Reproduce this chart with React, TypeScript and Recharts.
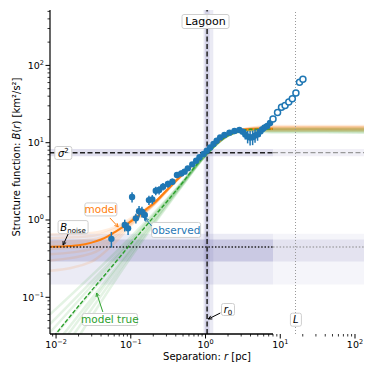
import React from "react";
import {
  ComposedChart,
  Line,
  Scatter,
  ErrorBar,
  XAxis,
  YAxis,
  ReferenceArea,
  ReferenceLine,
  ReferenceDot,
} from "recharts";

const X_MIN = 0.0083;
const X_MAX = 132;
const Y_MIN = 0.0335;
const Y_MAX = 521;
const FIT_MAX = 8; // end of fitted separation range

const xMajor = [0.01, 0.1, 1, 10, 100];
const xMinor = [
  0.009, 0.02, 0.03, 0.04, 0.05, 0.06, 0.07, 0.08, 0.09, 0.2, 0.3, 0.4, 0.5, 0.6, 0.7, 0.8,
  0.9, 2, 3, 4, 5, 6, 7, 8, 9, 20, 30, 40, 50, 60, 70, 80, 90,
];
const yMajor = [0.1, 1, 10, 100];
const yMinor = [
  0.04, 0.05, 0.06, 0.07, 0.08, 0.09, 0.2, 0.3, 0.4, 0.5, 0.6, 0.7, 0.8, 0.9, 2, 3, 4, 5, 6,
  7, 8, 9, 20, 30, 40, 50, 60, 70, 80, 90, 200, 300, 400, 500,
];
const expLabel: Record<string, string> = { "0.01": "−2", "0.1": "−1", "1": "0", "10": "1", "100": "2" };

// fitted / reference values
const sigma2 = 7.43;
const sigma2Band = [6.7, 8.3];
const r0 = 1.05;
const r0Band = [0.94, 1.27];
const r0Inner = [0.98, 1.13];
const bNoise = 0.447;
const noiseInner = [0.29, 0.56];
const noiseOuter = [0.146, 0.665];
const bigL = 16;

// observed structure function (filled, inside fit range)
const obsR = [
  0.055, 0.083, 0.092, 0.104, 0.117, 0.129, 0.141, 0.154, 0.175, 0.194, 0.216, 0.239, 0.27,
  0.314, 0.36, 0.415, 0.474, 0.525, 0.58, 0.665, 0.75, 0.83, 0.94, 1.04, 1.155, 1.28, 1.41,
  1.57, 1.79, 2.09, 2.44, 2.84, 3.14, 3.4, 3.66, 3.95, 4.27, 4.6, 4.97, 5.4, 5.8, 6.2, 6.7, 7.3,
];
const obsB = [
  0.57, 0.86, 0.78, 1.98, 1.05, 1.3, 1.28, 1.16, 1.81, 1.85, 2.39, 2.44, 2.7, 2.92, 3.13, 3.83,
  4.01, 4.22, 4.66, 5.25, 5.85, 6.47, 7.14, 7.87, 8.7, 9.6, 10.6, 11.7, 12.6, 13.5, 14.2, 14.6,
  13.9, 12.8, 12.0, 11.7, 11.8, 12.4, 12.8, 14.0, 15.0, 15.8, 16.5, 18.0,
];
const obsErr = [
  0.13, 0.15, 0.14, 0.3, 0.15, 0.22, 0.2, 0.18, 0.25, 0.25, 0.3, 0.3, 0.3, 0.3, 0.3, 0.35, 0.35,
  0.3, 0.3, 0.3, 0.3, 0.3, 0.3, 0.3, 0.3, 0.3, 0.35, 0.4, 0.4, 0.4, 0.5, 0.6, 1.2, 1.8, 2.2,
  2.5, 2.5, 2.4, 2.2, 2.0, 1.8, 1.6, 1.5, 1.3,
];
// observed beyond fit range (open)
const outR = [8.0, 9.2, 10.4, 11.6, 13.0, 14.5, 16.2, 18.1, 20.1];
const outB = [20.3, 24.5, 28.7, 30.3, 33.5, 37, 44, 60.5, 66.3];

// best model (with noise)
const modelR = [
  0.0083, 0.015, 0.02, 0.03, 0.04, 0.05, 0.06, 0.08, 0.1, 0.13, 0.16, 0.2, 0.25, 0.3, 0.4, 0.5,
  0.6, 0.8, 1, 1.3, 1.6, 2, 2.5, 3, 4, 5, 8,
];
const modelB = [
  0.45, 0.46, 0.47, 0.51, 0.56, 0.62, 0.69, 0.82, 0.96, 1.16, 1.38, 1.62, 2.0, 2.4, 3.2, 3.95,
  4.7, 6.1, 7.4, 9.2, 10.9, 12.6, 13.9, 14.6, 15.0, 15.1, 15.1,
];
// true model (no noise)
const trueR = [0.0083, 0.02, 0.05, 0.1, 0.2, 0.3, 0.5, 0.8, 1, 1.5, 2, 3, 4, 5, 8];
const trueB = [0.027, 0.077, 0.22, 0.49, 1.08, 1.7, 3.1, 5.5, 6.9, 10.2, 12.3, 14.3, 14.9, 15.0, 15.0];

// posterior samples
const sampleR = [0.0083, 0.03, 0.06, 0.1, 0.2, 0.4, 1, 2, 4, 8, 132];
const modelSamples = [
  [0.65, 0.68, 0.8, 1.05, 1.65, 3.2, 7.4, 12.5, 15.6, 16.4, 16.5],
  [0.58, 0.62, 0.76, 1.0, 1.62, 3.2, 7.4, 12.6, 15.2, 15.8, 15.8],
  [0.36, 0.42, 0.6, 0.9, 1.58, 3.2, 7.4, 12.6, 15.0, 15.2, 15.2],
  [0.3, 0.37, 0.56, 0.88, 1.56, 3.15, 7.4, 12.6, 14.6, 14.6, 14.6],
  [0.52, 0.56, 0.71, 0.97, 1.6, 3.2, 7.4, 12.6, 15.4, 16.0, 16.0],
  [0.22, 0.29, 0.5, 0.84, 1.55, 3.15, 7.4, 12.6, 14.4, 14.3, 14.2],
  [0.42, 0.47, 0.64, 0.93, 1.6, 3.2, 7.4, 12.6, 15.0, 15.5, 15.5],
  [0.48, 0.52, 0.68, 0.95, 1.6, 3.2, 7.4, 12.6, 15.1, 15.0, 15.0],
];
const trueSampleR = [0.0083, 0.1, 0.5, 1, 2, 4, 8, 132];
const trueSamples = [
  [0.06, 0.6, 3.2, 7.0, 12.2, 14.9, 15.4, 15.5],
  [0.045, 0.55, 3.15, 6.9, 12.3, 14.9, 14.9, 14.8],
  [0.02, 0.42, 3.0, 6.9, 12.4, 14.6, 14.3, 14.2],
  [0.012, 0.36, 2.9, 6.8, 12.5, 14.5, 13.9, 13.8],
  [0.035, 0.52, 3.1, 7.0, 12.3, 14.8, 15.0, 15.0],
  [0.016, 0.4, 3.0, 6.9, 12.4, 14.7, 14.5, 14.4],
  [0.008, 0.33, 2.85, 6.8, 12.5, 14.4, 13.6, 13.5],
  [0.027, 0.48, 3.05, 6.9, 12.4, 14.8, 14.8, 14.7],
];

const pairs = (rs: number[], bs: number[]) => rs.map((r, i) => ({ r, b: bs[i] }));
const obsData = obsR.map((r, i) => ({ r, b: obsB[i], err: obsErr[i] }));
const outData = pairs(outR, outB);
const modelData = pairs(modelR, modelB);
const trueData = pairs(trueR, trueB);

const BLUE = "#1f77b4";
const ORANGE = "#ff7f0e";
const GREEN = "#2ca02c";
const PURPLE = "#7570b3";

const XTick = (p: any) => {
  const v = p.payload.value;
  const major = xMajor.includes(v);
  return (
    <g>
      <line x1={p.x} x2={p.x} y1={p.y} y2={p.y + (major ? 4.5 : 2.5)} stroke="#000" strokeWidth={major ? 1 : 0.8} />
      {major && (
        <text x={p.x} y={p.y + 14} textAnchor="middle" fontSize={9.5} fill="#000">
          10<tspan dy={-4} fontSize={6.5}>{expLabel[String(v)]}</tspan>
        </text>
      )}
    </g>
  );
};

const YTick = (p: any) => {
  const v = p.payload.value;
  const major = yMajor.includes(v);
  return (
    <g>
      <line x1={p.x} x2={p.x - (major ? 4.5 : 2.5)} y1={p.y} y2={p.y} stroke="#000" strokeWidth={major ? 1 : 0.8} />
      {major && (
        <text x={p.x - 6} y={p.y + 3.5} textAnchor="end" fontSize={9.5} fill="#000">
          10<tspan dy={-4} fontSize={6.5}>{expLabel[String(v)]}</tspan>
        </text>
      )}
    </g>
  );
};

const YTitle = (props: any) => {
  const vb = props.viewBox || { x: 0, y: 2, width: 42, height: 324 };
  const cx = vb.x + 8;
  const cy = vb.y + vb.height / 2 - 15;
  return (
    <text x={cx} y={cy} transform={`rotate(-90 ${cx} ${cy})`} textAnchor="middle" dominantBaseline="central" fontSize={10} fill="#000">
      {"Structure function: "}
      <tspan fontStyle="italic">B</tspan>(<tspan fontStyle="italic">r</tspan>){" [km²/s²]"}
    </text>
  );
};

const XTitle = (props: any) => {
  const vb = props.viewBox || { x: 42, y: 326, width: 314, height: 40 };
  return (
    <text x={vb.x + vb.width / 2} y={vb.y + 25.5} textAnchor="middle" fontSize={10} fill="#000">
      {"Separation: "}
      <tspan fontStyle="italic">r</tspan>
      {" [pc]"}
    </text>
  );
};

function Arrow({ a, color }: { a: number[]; color: string }) {
  const [x1, y1, x2, y2] = a;
  const ang = Math.atan2(y2 - y1, x2 - x1);
  const h = 4;
  const p1 = [x2 - h * Math.cos(ang - 0.45), y2 - h * Math.sin(ang - 0.45)];
  const p2 = [x2 - h * Math.cos(ang + 0.45), y2 - h * Math.sin(ang + 0.45)];
  return (
    <g stroke={color} fill="none" strokeWidth={1}>
      <line x1={x1} y1={y1} x2={x2} y2={y2} />
      <polyline points={`${p1.join(",")} ${x2},${y2} ${p2.join(",")}`} />
    </g>
  );
}

type Note = {
  content: React.ReactNode;
  color: string;
  w: number;
  h: number;
  size: number;
  arrow?: number[];
};

const note = (n: Note) => (p: any) => {
  const { cx, cy } = p;
  return (
    <g>
      <rect x={cx - n.w / 2} y={cy - n.h / 2} width={n.w} height={n.h} rx={2} fill="#fff" fillOpacity={0.9} stroke="#cfcfcf" strokeWidth={1} />
      <text x={cx} y={cy + n.size * 0.36} textAnchor="middle" fontSize={n.size} fill={n.color}>
        {n.content}
      </text>
      {n.arrow && (
        <Arrow a={[cx + n.arrow[0], cy + n.arrow[1], cx + n.arrow[2], cy + n.arrow[3]]} color={n.color} />
      )}
    </g>
  );
};

export default function App() {
  return (
    <div style={{ width: 366, height: 366, fontFamily: "'DejaVu Sans', sans-serif" }}>
      <ComposedChart width={366} height={366} margin={{ top: 2, right: 10, left: 0, bottom: 0 }}>
        <XAxis
          type="number"
          dataKey="r"
          scale="log"
          domain={[X_MIN, X_MAX]}
          allowDataOverflow
          ticks={[...xMajor, ...xMinor]}
          interval={0}
          tick={<XTick />}
          tickLine={false}
          tickSize={0}
          tickMargin={0}
          axisLine={false}
          height={40}
          label={<XTitle />}
        />
        <YAxis
          type="number"
          scale="log"
          domain={[Y_MIN, Y_MAX]}
          allowDataOverflow
          ticks={[...yMajor, ...yMinor]}
          interval={0}
          tick={<YTick />}
          tickLine={false}
          tickSize={0}
          tickMargin={0}
          axisLine={{ stroke: "#000", strokeWidth: 1.2 }}
          width={42}
          label={<YTitle />}
        />

        {/* noise bands */}
        <ReferenceArea y1={noiseOuter[0]} y2={noiseOuter[1]} fill={PURPLE} fillOpacity={0.07} stroke="none" />
        <ReferenceArea x1={X_MIN} x2={FIT_MAX} y1={noiseOuter[0]} y2={noiseOuter[1]} fill={PURPLE} fillOpacity={0.07} stroke="none" />
        <ReferenceArea y1={noiseInner[0]} y2={noiseInner[1]} fill={PURPLE} fillOpacity={0.13} stroke="none" />
        <ReferenceArea x1={X_MIN} x2={FIT_MAX} y1={noiseInner[0]} y2={noiseInner[1]} fill={PURPLE} fillOpacity={0.16} stroke="none" />
        {/* sigma^2 band */}
        <ReferenceArea y1={sigma2Band[0]} y2={sigma2Band[1]} fill={PURPLE} fillOpacity={0.1} stroke="none" />
        <ReferenceArea x1={X_MIN} x2={FIT_MAX} y1={sigma2Band[0]} y2={sigma2Band[1]} fill={PURPLE} fillOpacity={0.12} stroke="none" />
        {/* r0 band */}
        <ReferenceArea x1={r0Band[0]} x2={r0Band[1]} fill={PURPLE} fillOpacity={0.15} stroke="none" />
        <ReferenceArea x1={r0Inner[0]} x2={r0Inner[1]} fill={PURPLE} fillOpacity={0.18} stroke="none" />

        {trueSamples.map((s, i) => (
          <Line
            key={"t" + i}
            data={pairs(trueSampleR, s)}
            dataKey="b"
            type="monotone"
            stroke={GREEN}
            strokeOpacity={0.13}
            strokeWidth={2.5}
            dot={false}
            activeDot={false}
            isAnimationActive={false}
          />
        ))}
        {modelSamples.map((s, i) => (
          <Line
            key={"m" + i}
            data={pairs(sampleR, s)}
            dataKey="b"
            type="monotone"
            stroke={ORANGE}
            strokeOpacity={0.13}
            strokeWidth={2.5}
            dot={false}
            activeDot={false}
            isAnimationActive={false}
          />
        ))}
        <Line data={modelData} dataKey="b" type="monotone" stroke={ORANGE} strokeWidth={2} dot={false} activeDot={false} isAnimationActive={false} />
        <Line data={trueData} dataKey="b" type="monotone" stroke={GREEN} strokeWidth={1.4} strokeDasharray="4 2" dot={false} activeDot={false} isAnimationActive={false} />

        {/* reference lines */}
        <ReferenceLine segment={[{ x: X_MIN, y: sigma2 }, { x: FIT_MAX, y: sigma2 }]} stroke="#222" strokeWidth={1.5} strokeDasharray="5 2.5" />
        <ReferenceLine segment={[{ x: FIT_MAX, y: sigma2 }, { x: X_MAX, y: sigma2 }]} stroke="#999" strokeWidth={1.2} strokeDasharray="5 2.5" />
        <ReferenceLine segment={[{ x: X_MIN, y: bNoise }, { x: FIT_MAX, y: bNoise }]} stroke="#222" strokeWidth={1.5} strokeDasharray="1.5 1.8" />
        <ReferenceLine segment={[{ x: FIT_MAX, y: bNoise }, { x: X_MAX, y: bNoise }]} stroke="#888" strokeWidth={1.2} strokeDasharray="1.5 1.8" />
        <ReferenceLine x={r0} stroke="#222" strokeWidth={1.5} strokeDasharray="5 2.5" />
        <ReferenceLine x={bigL} stroke="#999" strokeWidth={1} strokeDasharray="1 2" />
        <ReferenceLine segment={[{ x: X_MIN, y: Y_MIN }, { x: FIT_MAX, y: Y_MIN }]} stroke="#000" strokeWidth={1.5} ifOverflow="visible" />

        <Scatter
          data={obsData}
          dataKey="b"
          fill={BLUE}
          isAnimationActive={false}
          shape={(p: any) => <circle cx={p.cx} cy={p.cy} r={3.2} fill={BLUE} />}
        >
          <ErrorBar dataKey="err" direction="y" width={0} stroke={BLUE} strokeWidth={1.5} />
        </Scatter>
        <Scatter
          data={outData}
          dataKey="b"
          fill="#fff"
          isAnimationActive={false}
          shape={(p: any) => <circle cx={p.cx} cy={p.cy} r={3} fill="#fff" stroke={BLUE} strokeWidth={1.5} />}
        />

        {/* annotations */}
        <ReferenceDot x={1.0} y={370} r={1} shape={note({ content: "Lagoon", color: "#000", w: 47, h: 14, size: 11 })} />
        <ReferenceDot
          x={0.0125}
          y={7.36}
          r={1}
          shape={note({
            content: (
              <>
                <tspan fontStyle="italic">σ</tspan>
                <tspan dy={-4} fontSize={7}>2</tspan>
              </>
            ),
            color: "#000",
            w: 17,
            h: 13,
            size: 10,
          })}
        />
        <ReferenceDot
          x={0.0169}
          y={0.81}
          r={1}
          shape={note({
            content: (
              <>
                <tspan fontStyle="italic">B</tspan>
                <tspan dy={2} fontSize={7}>noise</tspan>
              </>
            ),
            color: "#000",
            w: 30,
            h: 13,
            size: 10,
            arrow: [-5, 7, -10, 18],
          })}
        />
        <ReferenceDot x={0.0398} y={1.37} r={1} shape={note({ content: "model", color: ORANGE, w: 32, h: 13, size: 10.5, arrow: [9, 8.5, 17.3, 17.5] })} />
        <ReferenceDot x={0.404} y={0.743} r={1} shape={note({ content: "observed", color: BLUE, w: 49, h: 15, size: 10.5, arrow: [-24.5, -4, -31, -12] })} />
        <ReferenceDot x={0.0525} y={0.0516} r={1} shape={note({ content: "model true", color: GREEN, w: 55, h: 12, size: 10.5, arrow: [-7, -7.5, -13.3, -26.5] })} />
        <ReferenceDot
          x={2.0}
          y={0.0695}
          r={1}
          shape={note({
            content: (
              <>
                <tspan fontStyle="italic">r</tspan>
                <tspan dy={2} fontSize={7}>0</tspan>
              </>
            ),
            color: "#000",
            w: 13,
            h: 12,
            size: 10,
            arrow: [-7.7, 3.5, -19.7, 9.5],
          })}
        />
        <ReferenceDot
          x={16.2}
          y={0.0513}
          r={1}
          shape={note({ content: <tspan fontStyle="italic">L</tspan>, color: "#000", w: 11, h: 13, size: 10 })}
        />
      </ComposedChart>
    </div>
  );
}
